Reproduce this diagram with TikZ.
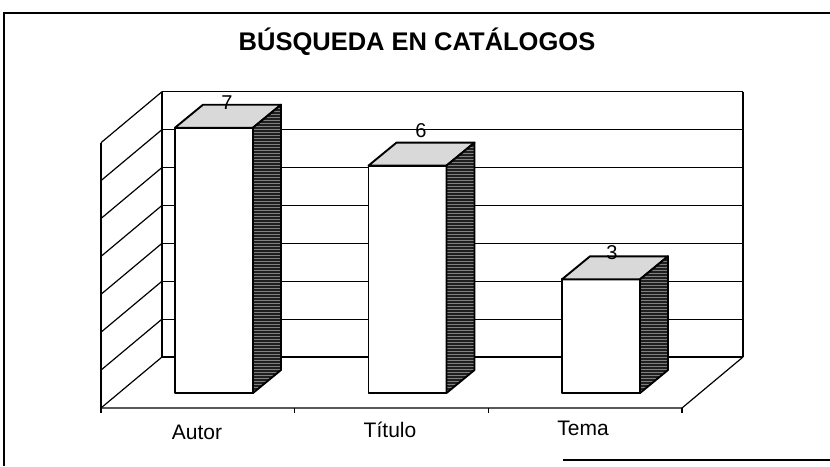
\documentclass[tikz,border=0pt]{standalone}
\usepackage{fontspec}
\setmainfont{Liberation Sans}
\usetikzlibrary{patterns}
\begin{document}
\begin{tikzpicture}[x=1pt,y=-1pt,
  gridline/.style={line width=1.2pt},
  frameline/.style={line width=1.8pt},
  barface/.style={line width=1.9pt, line join=round},
  catlabel/.style={font=\fontsize{21}{24}\selectfont, inner sep=0pt},
  vallabel/.style={font=\fontsize{20}{23}\selectfont, inner sep=0pt}]
\useasboundingbox (0,0) rectangle (830,466);
% outer chart frame
\draw[frameline] (3,13) -- (830,13);
\draw[frameline] (4,13) -- (4,466);
\draw[frameline] (563,460) -- (830,460);
% title
\node[font=\fontsize{25.5}{30}\selectfont\bfseries] (title) at (417,42) {BÚSQUEDA EN CATÁLOGOS};
% walls and grid
\foreach \v in {0,...,7}{
  \draw[gridline] (101,408-\v*37.9) -- (162,357-\v*37.9);
}
\foreach \v in {0,...,7}{
  \draw[gridline] (162,357-\v*37.9) -- (743,357-\v*37.9);
}
\draw[gridline] (101,408-7*37.9) -- (101,408);
\draw[gridline] (162,357-7*37.9) -- (162,357);
\draw[gridline] (743,357-7*37.9) -- (743,357);
% floor
\draw[gridline] (101,408) -- (682,408) -- (743,357);
\foreach \t in {101,294.7,488.3,682}{
  \draw[gridline] (\t,408) -- (\t,413);
}
% bars
\foreach \x/\v in {175/7,368.5/6,562/3}{
  \pgfmathsetmacro\yt{393-\v*37.9}
  \draw[barface, fill=white] (\x,393) rectangle (\x+78,\yt);
  \draw[barface, fill=gray!30] (\x,\yt) -- (\x+78,\yt) -- (\x+106,\yt-23) -- (\x+28,\yt-23) -- cycle;
  \fill[black!88] (\x+78,\yt) -- (\x+106,\yt-23) -- (\x+106,370) -- (\x+78,393) -- cycle;
  \fill[pattern=horizontal lines, pattern color=black!50] (\x+78,\yt) -- (\x+106,\yt-23) -- (\x+106,370) -- (\x+78,393) -- cycle;
  \draw[barface] (\x+78,\yt) -- (\x+106,\yt-23) -- (\x+106,370) -- (\x+78,393) -- cycle;
}
% value labels
\node[vallabel] (v1) at (227,103) {7};
\node[vallabel] (v2) at (421,131) {6};
\node[vallabel] (v3) at (612,253) {3};
% category labels
\node[catlabel] (c1) at (197,432) {Autor};
\node[catlabel] (c2) at (390,430) {Título};
\node[catlabel] (c3) at (583,428) {Tema};
\end{tikzpicture}
\end{document}
